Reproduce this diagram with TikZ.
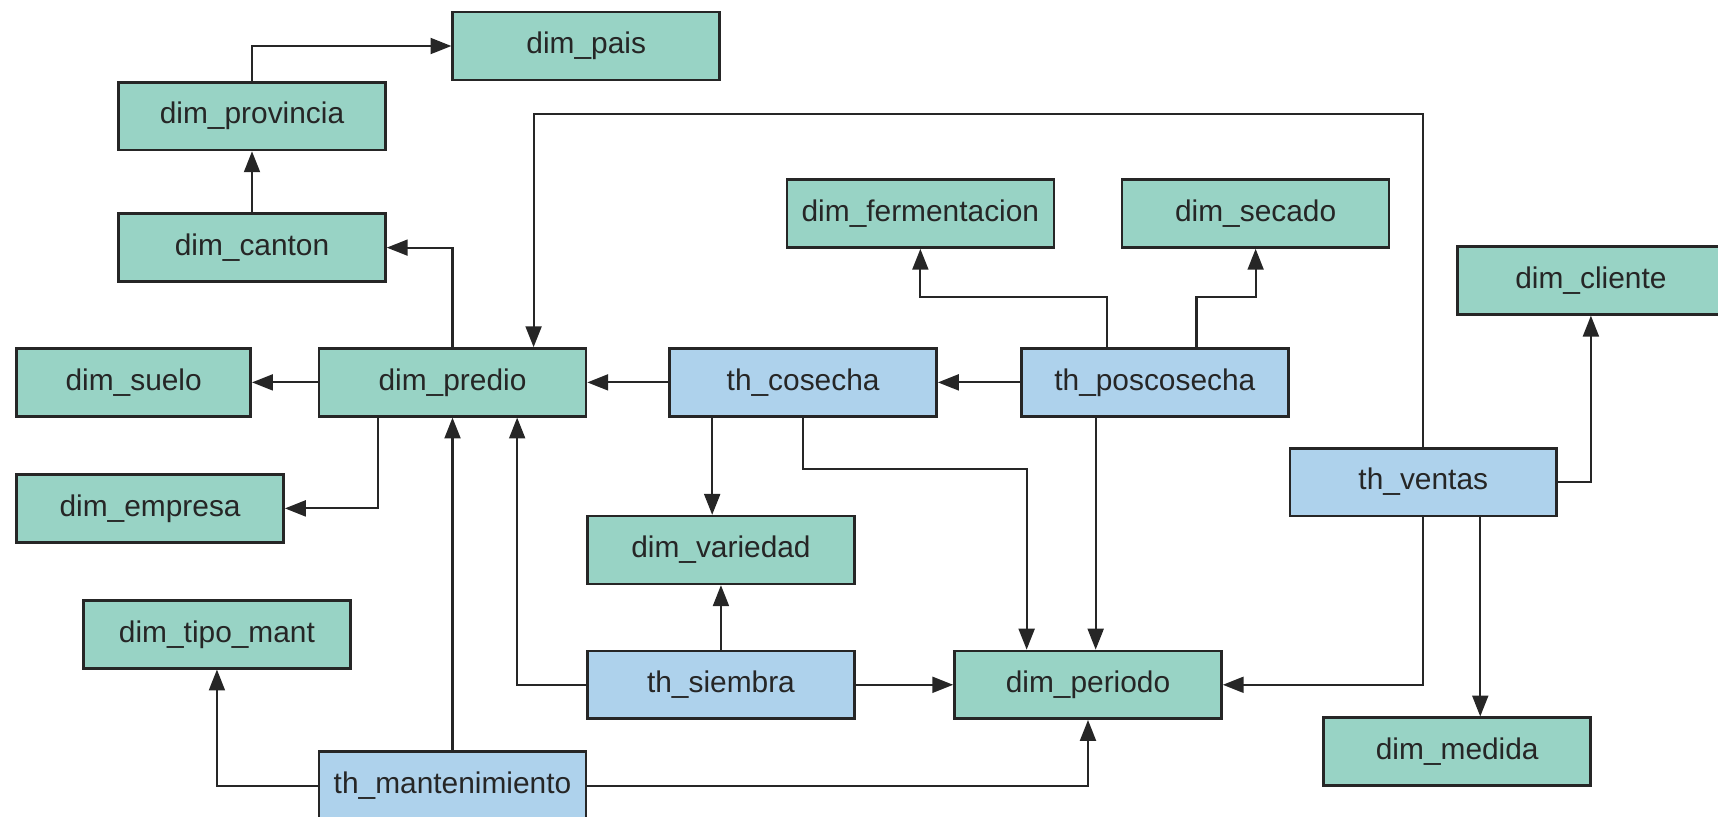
\documentclass[tikz,border=0pt]{standalone}
\usepackage{fontspec}
\setmainfont{Liberation Sans}
\usetikzlibrary{arrows.meta,calc}

\definecolor{dimgreen}{RGB}{152,211,197}
\definecolor{thblue}{RGB}{174,210,236}

\begin{document}
\begin{tikzpicture}[x=0.55pt, y=-0.55pt,
		tbl/.style={draw=black!85, line width=1.3pt, minimum width=134pt, minimum height=34pt, inner sep=0pt, font=\fontsize{15}{17}\selectfont, text=black!85},
		dim/.style={tbl, fill=dimgreen},
		th/.style={tbl, fill=thblue},
		arr/.style={-{Triangle[length=10.5pt,width=8pt]}, line width=1.1pt, black!85}]
		\useasboundingbox (0,0) rectangle (1568,745);
		% dimensiones
		\node[dim] (pais) at (535,42) {dim\_pais};
		\node[dim] (provincia) at (230,106) {dim\_provincia};
		\node[dim] (canton) at (230,226) {dim\_canton};
		\node[dim, minimum width=117.5pt] (suelo) at (122,349) {dim\_suelo};
		\node[dim] (predio) at (413,349) {dim\_predio};
		\node[dim] (empresa) at (137,464) {dim\_empresa};
		\node[dim] (tipo) at (198,579) {dim\_tipo\_mant};
		\node[dim] (fermentacion) at (840,195) {dim\_fermentacion};
		\node[dim] (secado) at (1146,195) {dim\_secado};
		\node[dim] (cliente) at (1452,256) {dim\_cliente};
		\node[dim] (variedad) at (658,502) {dim\_variedad};
		\node[dim] (periodo) at (993,625) {dim\_periodo};
		\node[dim] (medida) at (1330,686) {dim\_medida};
		% hechos
		\node[th] (cosecha) at (733,349) {th\_cosecha};
		\node[th] (poscosecha) at (1054,349) {th\_poscosecha};
		\node[th] (ventas) at (1299,440) {th\_ventas};
		\node[th] (siembra) at (658,625) {th\_siembra};
		\node[th] (mant) at (413,717) {th\_mantenimiento};
		\coordinate (ret) at (487,104);

		\draw[arr] (provincia.north) |- (pais.west);
		\draw[arr] (canton) -- (provincia);
		\draw[arr] (predio.north) |- (canton.east);
		\draw[arr] (predio) -- (suelo);
		\draw[arr] ($(predio.south)+(-68,0)$) |- (empresa.east);
		\draw[arr] (ventas.north) |- (ret) -- ($(predio.north)+(74,0)$);
		\draw[arr] (cosecha) -- (predio);
		\draw[arr] (poscosecha) -- (cosecha);
		\draw[arr] ($(poscosecha.north)+(-44,0)$) -- ++(0,-46) -| (fermentacion.south);
		\draw[arr] ($(poscosecha.north)+(38,0)$) -- ++(0,-46) -| (secado.south);
		\draw[arr] ($(cosecha.south)+(-83,0)$) -- ($(variedad.north)+(-8,0)$);
		\draw[arr] (cosecha.south) -- ++(0,47) -| ($(periodo.north)+(-56,0)$);
		\draw[arr] ($(poscosecha.south)+(-54,0)$) -- ($(periodo.north)+(7,0)$);
		\draw[arr] (siembra) -- (variedad);
		\draw[arr] (siembra.west) -| ($(predio.south)+(59,0)$);
		\draw[arr] (siembra) -- (periodo);
		\draw[arr] (mant.north) -- (predio.south);
		\draw[arr] (mant.west) -| (tipo.south);
		\draw[arr] (mant.east) -| (periodo.south);
		\draw[arr] (ventas.south) |- (periodo.east);
		\draw[arr] ($(ventas.south)+(52,0)$) -- ($(medida.north)+(21,0)$);
		\draw[arr] (ventas.east) -| (cliente.south);
	\end{tikzpicture}
\end{document}
